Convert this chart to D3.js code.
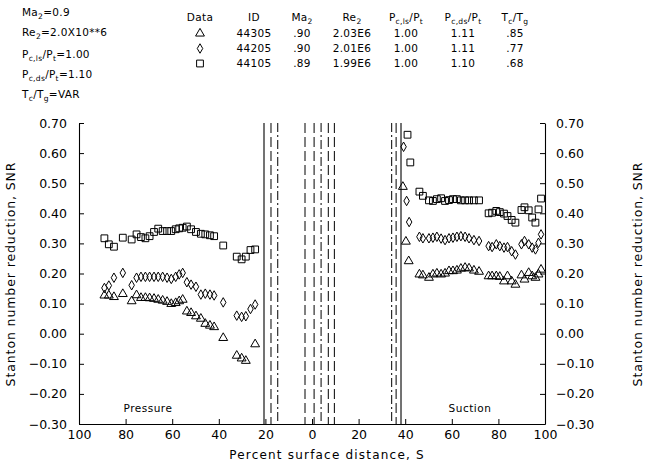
<!DOCTYPE html>
<html><head><meta charset="utf-8">
<script src="https://cdn.jsdelivr.net/npm/d3@7"></script>
<style>
body{margin:0;background:#fff;}
svg text{font-family:"DejaVu Sans",sans-serif;fill:#000;}
</style></head><body>
<svg id="chart" width="653" height="476"></svg>
<script>
// Percent surface distance: pressure side negative, suction side positive.
const triS = [-89.1,-87.2,-85.0,-81.2,-77.4,-75.3,-73.4,-71.5,-69.7,-67.8,-66.0,-64.1,-62.2,-60.4,-58.5,-57.0,-55.5,-53.7,-51.9,-49.8,-47.7,-45.8,-43.8,-42.0,-38.1,-32.3,-30.2,-28.4,-24.4,
  39.0,40.3,41.5,
  46.1,47.6,50.2,51.9,53.6,55.4,57.1,58.8,60.5,62.2,63.9,65.7,67.4,69.5,71.7,
  75.8,77.3,79.1,80.6,82.4,83.9,85.7,87.3,
  89.9,91.2,93.0,94.5,95.9,97.2,98.3];
const triSNR = [0.127,0.127,0.122,0.132,0.108,0.128,0.119,0.119,0.118,0.116,0.113,0.110,0.106,0.099,0.102,0.108,0.113,0.074,0.069,0.058,0.050,0.033,0.027,0.022,-0.014,-0.073,-0.082,-0.090,-0.035,
  0.488,0.306,0.241,
  0.197,0.194,0.186,0.197,0.200,0.197,0.200,0.208,0.208,0.210,0.216,0.219,0.217,0.210,0.206,
  0.191,0.191,0.191,0.189,0.174,0.191,0.174,0.163,
  0.194,0.180,0.202,0.191,0.186,0.197,0.213];

const diaS = [-89.1,-87.2,-85.0,-81.2,-77.4,-75.3,-73.4,-71.5,-69.7,-67.8,-66.0,-64.1,-62.2,-60.4,-58.5,-57.0,-55.5,-53.7,-51.9,-49.8,-47.7,-45.8,-43.8,-42.0,-38.1,-32.3,-30.2,-28.4,-26.4,-24.4,
  39.3,40.6,41.7,
  46.1,47.6,50.2,51.9,53.6,55.4,57.1,58.8,60.5,62.2,63.9,65.7,67.4,69.5,71.7,
  75.8,77.3,79.1,80.6,82.4,83.9,85.7,87.3,
  89.9,91.2,93.0,94.5,95.9,97.2,98.3];
const diaSNR = [0.152,0.160,0.186,0.202,0.161,0.186,0.189,0.189,0.189,0.189,0.189,0.189,0.186,0.182,0.189,0.197,0.202,0.171,0.163,0.156,0.130,0.133,0.130,0.127,0.104,0.060,0.056,0.058,0.082,0.097,
  0.621,0.441,0.371,
  0.322,0.317,0.317,0.319,0.322,0.316,0.311,0.317,0.319,0.322,0.324,0.322,0.317,0.311,0.308,
  0.291,0.288,0.297,0.291,0.286,0.288,0.274,0.263,
  0.297,0.308,0.297,0.286,0.280,0.302,0.330];

const sqS = [-89.1,-87.2,-85.0,-81.2,-77.4,-75.3,-73.4,-71.5,-69.7,-67.8,-66.0,-64.1,-62.2,-60.4,-58.5,-57.0,-55.5,-53.7,-51.9,-49.8,-47.7,-45.8,-43.8,-42.0,-38.1,-32.3,-30.2,-28.4,-26.4,-24.4,
  41.0,42.2,
  46.1,47.6,50.2,51.9,53.6,55.4,57.1,58.8,60.5,62.2,63.9,65.7,67.4,69.5,71.7,
  75.8,77.3,79.1,80.6,82.4,83.9,85.7,87.3,
  89.9,91.2,93.0,94.5,95.9,97.2,98.3];
const sqSNR = [0.317,0.297,0.289,0.319,0.313,0.330,0.321,0.317,0.324,0.338,0.349,0.341,0.341,0.341,0.347,0.350,0.352,0.356,0.347,0.338,0.332,0.330,0.327,0.324,0.293,0.256,0.247,0.256,0.278,0.280,
  0.661,0.569,
  0.472,0.458,0.443,0.441,0.447,0.450,0.441,0.444,0.447,0.447,0.443,0.443,0.443,0.443,0.443,
  0.400,0.402,0.408,0.404,0.399,0.391,0.378,0.369,
  0.411,0.420,0.410,0.386,0.369,0.413,0.449];

// Coolant hole row locations (percent surface distance)
const solidRowS = [-20.6, 38.2];
const dashedRowS = [-17.6, -14.7, -3.0, 0.9, 3.9, 7.0, 9.6, 34.2, 36.1];

const xTicks = [-100,-80,-60,-40,-20,0,20,40,60,80,100];
const xTickLabels = ["100","80","60","40","20","0","20","40","60","80","100"];
const yTicks = [-0.3,-0.2,-0.1,0,0.1,0.2,0.3,0.4,0.5,0.6,0.7];
const yTickLabels = ["\u22120.30","\u22120.20","\u22120.10","0.00","0.10","0.20","0.30","0.40","0.50","0.60","0.70"];

// Run table
const runSymbols = ["triangle","diamond","square"];
const runIDs = ["44305","44205","44105"];
const runMa = [".90",".90",".89"];
const runRe = ["2.03E6","2.01E6","1.99E6"];
const runPcls = ["1.00","1.00","1.00"];
const runPcds = ["1.11","1.11","1.10"];
const runTcTg = [".85",".77",".68"];

const svg = d3.select("#chart");
const X0 = 79, X1 = 545, YB = 424, YT = 123;
const x = d3.scaleLinear().domain([-100,100]).range([X0,X1]);
const y = d3.scaleLinear().domain([-0.3,0.7]).range([YB,YT]);

const symbolType = {triangle:d3.symbolTriangle, diamond:d3.symbolDiamond, square:d3.symbolSquare};
const symbolSize = {triangle:34, diamond:26, square:46};
const sym = k => d3.symbol().type(symbolType[k]).size(symbolSize[k])();

// text with subscripts: parts = [[text, "sub"|""], ...]
function subText(g, px, py, parts, size, anchor){
  const t = g.append("text").attr("x", px).attr("y", py).attr("font-size", size)
    .attr("text-anchor", anchor || "start").attr("letter-spacing", 0.3);
  let shifted = false;
  parts.forEach(([s,k]) => {
    const ts = t.append("tspan").text(s);
    if (k === "sub") { ts.attr("font-size", size*0.72); if(!shifted){ts.attr("dy",3); shifted=true;} }
    else if (shifted) { ts.attr("dy",-3); shifted=false; }
  });
  return t;
}

// Header: flow conditions
const hdr = svg.append("g");
const hx = 22, fs = 10.5;
subText(hdr, hx, 16, [["Ma",""],["2","sub"],["=0.9",""]], fs);
subText(hdr, hx, 36, [["Re",""],["2","sub"],["=2.0X10**6",""]], fs);
subText(hdr, hx, 58, [["P",""],["c,ls","sub"],["/P",""],["t","sub"],["=1.00",""]], fs);
subText(hdr, hx, 78, [["P",""],["c,ds","sub"],["/P",""],["t","sub"],["=1.10",""]], fs);
subText(hdr, hx, 98, [["T",""],["c","sub"],["/T",""],["g","sub"],["=VAR",""]], fs);

// Header: run table
const colX = [200, 254, 302, 352, 406, 463, 515];
subText(hdr, colX[0], 21, [["Data",""]], fs, "middle");
subText(hdr, colX[1], 21, [["ID",""]], fs, "middle");
subText(hdr, colX[2], 21, [["Ma",""],["2","sub"]], fs, "middle");
subText(hdr, colX[3], 21, [["Re",""],["2","sub"]], fs, "middle");
subText(hdr, colX[4], 21, [["P",""],["c,ls","sub"],["/P",""],["t","sub"]], fs, "middle");
subText(hdr, colX[5], 21, [["P",""],["c,ds","sub"],["/P",""],["t","sub"]], fs, "middle");
subText(hdr, colX[6], 21, [["T",""],["c","sub"],["/T",""],["g","sub"]], fs, "middle");
const rowY = [37, 52, 67];
runSymbols.forEach((k, i) => {
  hdr.append("path").attr("d", sym(k)).attr("transform", `translate(${colX[0]},${rowY[i]-3.5})`)
    .attr("fill","none").attr("stroke","#000").attr("stroke-width",1);
  [runIDs, runMa, runRe, runPcls, runPcds, runTcTg].forEach((arr, j) => {
    hdr.append("text").attr("x", colX[j+1]).attr("y", rowY[i]).attr("font-size", fs)
      .attr("text-anchor","middle").attr("letter-spacing",0.3).text(arr[i]);
  });
});

// Hole-row marker lines
const lines = svg.append("g");
solidRowS.forEach(s => lines.append("line").attr("x1", x(s)).attr("x2", x(s))
  .attr("y1", y(0.7)).attr("y2", y(-0.3)).attr("stroke","#000").attr("stroke-width",1.1));
dashedRowS.forEach((s, i) => lines.append("line").attr("x1", x(s)).attr("x2", x(s))
  .attr("y1", y(0.7)).attr("y2", y(-0.3)).attr("stroke","#000").attr("stroke-width",1)
  .attr("stroke-dasharray", i % 3 === 1 ? "9,3,2,3" : "10,4"));

// Axes
const axL = d3.axisLeft(y).tickValues(yTicks).tickFormat((d,i)=>yTickLabels[i]).tickSizeInner(-5).tickSizeOuter(0).tickPadding(12);
const axR = d3.axisRight(y).tickValues(yTicks).tickFormat((d,i)=>yTickLabels[i]).tickSizeInner(-5).tickSizeOuter(0).tickPadding(11);
const axB = d3.axisBottom(x).tickValues(xTicks).tickFormat((d,i)=>xTickLabels[i]).tickSizeInner(-5).tickSizeOuter(0).tickPadding(6);
function styleAxis(g){
  g.selectAll("path.domain").attr("stroke","#000").attr("stroke-width",1.1);
  g.selectAll(".tick line").attr("stroke","#000");
  g.selectAll(".tick text").attr("font-size",12.5).attr("font-family","DejaVu Sans, sans-serif").attr("fill","#000");
}
svg.append("g").attr("transform",`translate(${X0},0)`).call(axL).call(styleAxis);
svg.append("g").attr("transform",`translate(${X1},0)`).call(axR).call(styleAxis);
svg.append("g").attr("transform",`translate(0,${YB})`).call(axB).call(styleAxis);

// Axis titles
svg.append("text").attr("transform","translate(15,274) rotate(-90)").attr("text-anchor","middle")
  .attr("font-size",12.5).attr("letter-spacing",0.9).text("Stanton number reduction, SNR");
svg.append("text").attr("transform","translate(642,274) rotate(-90)").attr("text-anchor","middle")
  .attr("font-size",12.5).attr("letter-spacing",0.9).text("Stanton number reduction, SNR");
svg.append("text").attr("x", 327).attr("y", 459).attr("text-anchor","middle")
  .attr("font-size",12).attr("letter-spacing",1.2).text("Percent surface distance, S");

// Side labels
svg.append("text").attr("x", x(-70.4)).attr("y", 412).attr("text-anchor","middle").attr("font-size",10.5).attr("letter-spacing",0.5).text("Pressure");
svg.append("text").attr("x", x(67.8)).attr("y", 412).attr("text-anchor","middle").attr("font-size",10.5).attr("letter-spacing",0.5).text("Suction");

// Data points
const series = [
  {k:"triangle", s:triS, v:triSNR},
  {k:"diamond", s:diaS, v:diaSNR},
  {k:"square", s:sqS, v:sqSNR}
];
const pts = svg.append("g");
series.forEach(ser => {
  pts.selectAll(null).data(ser.s.map((s,i)=>[s, ser.v[i]])).join("path")
    .attr("d", sym(ser.k))
    .attr("transform", d => `translate(${x(d[0])},${y(d[1])})`)
    .attr("fill","none").attr("stroke","#000").attr("stroke-width",1);
});
</script>
</body></html>
